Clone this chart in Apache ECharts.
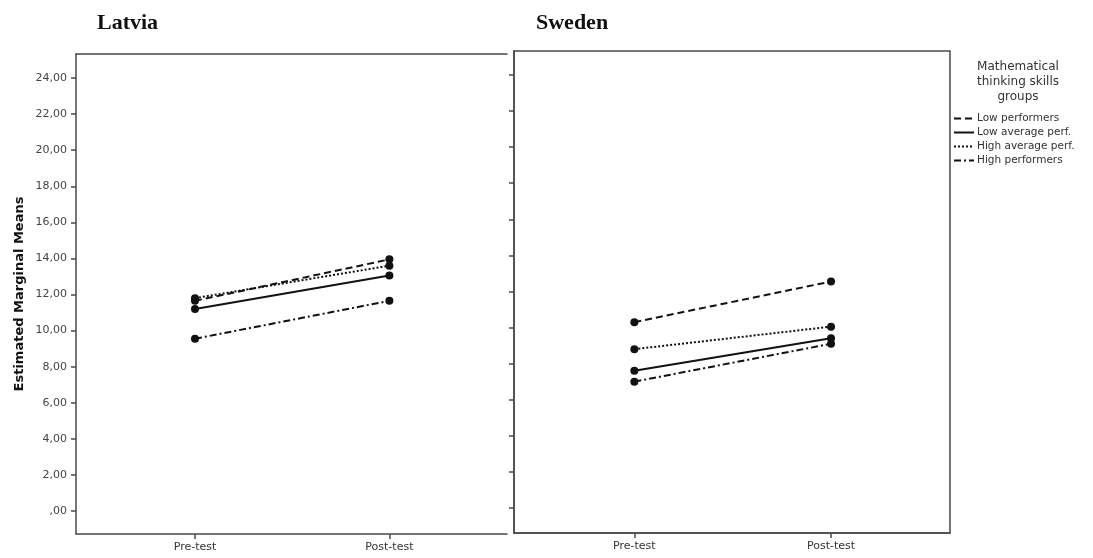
<!DOCTYPE html>
<html>
<head>
<meta charset="utf-8">
<script src="https://cdn.jsdelivr.net/npm/echarts@6/dist/echarts.min.js"></script>
<style>
html,body{margin:0;padding:0;background:#fff;}
#chart{width:1093px;height:558px;}
</style>
</head>
<body>
<div id="chart"></div>
<script>
var times = ['Pre-test', 'Post-test'];
var groups = ['Low performers', 'Low average perf.', 'High average perf.', 'High performers'];
var latviaLow = [11.65, 13.95];
var latviaLowAvg = [11.2, 13.05];
var latviaHighAvg = [11.8, 13.6];
var latviaHigh = [9.55, 11.65];
var swedenLow = [10.3, 12.55];
var swedenLowAvg = [7.6, 9.4];
var swedenHighAvg = [8.8, 10.05];
var swedenHigh = [7.0, 9.1];
var yTicks = [0, 2, 4, 6, 8, 10, 12, 14, 16, 18, 20, 22, 24];

var dashTypes = [[7, 4], 'solid', [2, 2], [7, 3, 2, 3]];
var latvia = [latviaLow, latviaLowAvg, latviaHighAvg, latviaHigh];
var sweden = [swedenLow, swedenLowAvg, swedenHighAvg, swedenHigh];

var SANS = 'DejaVu Sans, Arial, sans-serif';
function fmt(v) {
  var s = Number(v).toFixed(2).replace('.', ',');
  if (s.indexOf('0,') === 0) s = s.substring(1);
  return s;
}
var axisCol = '#4a4a4a';

function xAx(gi, pos, showAll) {
  return {
    type: 'value', gridIndex: gi, position: pos, min: -0.612, max: 1.605,
    splitLine: {show: false},
    axisLine: {show: true, onZero: false, lineStyle: {color: axisCol, width: 1.5}},
    axisTick: {show: showAll, length: 5, inside: false, lineStyle: {color: axisCol, width: 1.5}, customValues: [0, 1]},
    axisLabel: {show: showAll, color: '#333', fontFamily: SANS, fontSize: 11, margin: 8,
      customValues: [0, 1], formatter: function (v) { return times[Math.round(v)]; }}
  };
}
function yAx(gi, mn, mx, labels) {
  return {
    type: 'value', gridIndex: gi, min: mn, max: mx,
    splitLine: {show: false},
    name: labels ? 'Estimated Marginal Means' : '',
    nameLocation: 'middle', nameGap: 50, nameRotate: 90,
    nameTextStyle: {fontFamily: SANS, fontWeight: 'bold', fontSize: 13, color: '#111'},
    axisLine: {show: true, onZero: false, lineStyle: {color: axisCol, width: 1.5}},
    axisTick: {show: true, length: 5, lineStyle: {color: axisCol, width: 1.5}, customValues: yTicks},
    axisLabel: {show: labels, color: '#444', fontFamily: SANS, fontSize: 11, margin: 9,
      customValues: yTicks, formatter: fmt}
  };
}

var series = [];
function addSeries(arr, xi, yi) {
  arr.forEach(function (vals, k) {
    series.push({
      name: groups[k], type: 'line', xAxisIndex: xi, yAxisIndex: yi,
      data: vals.map(function (v, i) { return [i, v]; }),
      symbol: 'circle', symbolSize: 8,
      itemStyle: {color: '#111'},
      lineStyle: {color: '#111', width: 2, type: dashTypes[k]},
      emphasis: {disabled: true},
      animation: false
    });
  });
}
addSeries(latvia, 0, 0);
addSeries(sweden, 2, 1);

var TITLE_FONT = 'Liberation Serif, Times New Roman, serif';
var chart = echarts.init(document.getElementById('chart'));
chart.setOption({
  backgroundColor: '#fff',
  animation: false,
  title: [
    {text: 'Latvia', left: 92, top: 7, textStyle: {fontFamily: TITLE_FONT, fontWeight: 'bold', fontSize: 22, color: '#111'}},
    {text: 'Sweden', left: 531, top: 7, textStyle: {fontFamily: TITLE_FONT, fontWeight: 'bold', fontSize: 22, color: '#111'}},
    {text: 'Mathematical\nthinking skills\ngroups', left: 1013, top: 54, textAlign: 'center',
      textStyle: {fontFamily: SANS, fontWeight: 'normal', fontSize: 12, color: '#333', lineHeight: 15}}
  ],
  legend: {
    orient: 'vertical', left: 948, top: 108, itemWidth: 20, itemHeight: 11, itemGap: 3,
    data: groups,
    itemStyle: {opacity: 0},
    textStyle: {fontFamily: SANS, fontSize: 10.5, lineHeight: 11, color: '#333', padding: [0, 0, 0, -2]},
    selectedMode: false
  },
  grid: [
    {left: 76, top: 54, width: 431, height: 480, show: false},
    {left: 514, top: 51, width: 436, height: 482, show: true, borderColor: axisCol, borderWidth: 1.5, backgroundColor: 'transparent'}
  ],
  xAxis: [xAx(0, 'bottom', true), xAx(0, 'top', false), xAx(1, 'bottom', true)],
  yAxis: [yAx(0, -1.27, 25.33, true), yAx(1, -1.39, 25.33, false)],
  series: series
});
</script>
</body>
</html>
